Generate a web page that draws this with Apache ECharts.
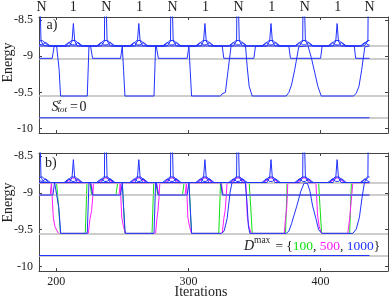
<!DOCTYPE html>
<html><head><meta charset="utf-8">
<script src="https://cdn.jsdelivr.net/npm/echarts@6/dist/echarts.min.js"></script>
<style>html,body{margin:0;padding:0;background:#fff}#c{width:390px;height:297px}</style>
</head><body><div id="c"></div>
<script>
// ---------- axes / labels ----------
const xTicks = [200, 300, 400];
const yTicks = [-10, -9.5, -9, -8.5];
const siteLabelPos = [189, 213, 238, 263, 288, 313, 338, 363, 388, 413, 437];
const siteLabels = ['N','1','N','1','N','1','N','1','N','1','N'];
const refEnergies = [-8.86, -9.03, -9.55, -9.85];

// ---------- ground state ----------
const ground = [[187,-9.85],[437,-9.85]];

// ---------- cluster of excited states (same for both panels) ----------
const spikeLine = [
 [187,-7.6],[188,-7.6],[188.5,-8.79],[190.5,-8.85],[194,-8.86],
 [210,-8.86],[212,-8.79],[213,-8.55],[214,-8.79],[216,-8.86],
 [234,-8.86],[236.5,-8.79],[236.9,-7.6],[238.1,-7.6],[238.5,-8.79],[241,-8.86],
 [259.5,-8.86],[261.5,-8.79],[262.5,-8.55],[263.5,-8.79],[265.5,-8.86],
 [284,-8.86],[286.5,-8.79],[286.9,-7.6],[288.1,-7.6],[288.5,-8.79],[291,-8.86],
 [309.5,-8.86],[311.5,-8.79],[312.5,-8.55],[313.5,-8.79],[315.5,-8.86],
 [334,-8.86],[336.5,-8.79],[336.9,-7.6],[338.1,-7.6],[338.5,-8.79],[341,-8.86],
 [359.5,-8.86],[361.5,-8.79],[362.5,-8.55],[363.5,-8.79],[365.5,-8.86],
 [384,-8.86],[386.5,-8.79],[386.9,-7.6],[388.1,-7.6],[388.5,-8.79],[391,-8.86],
 [409.5,-8.86],[411.5,-8.79],[412.5,-8.55],[413.5,-8.79],[415.5,-8.86],
 [433,-8.86],[435.8,-8.79],[436.3,-7.6],[437,-7.6]
];
const fanLine = [
 [187,-8.79],[189.5,-8.785],[194.5,-8.86],
 [207,-8.86],[211.5,-8.785],[214.5,-8.785],[219,-8.86],
 [231.5,-8.86],[236,-8.785],[239,-8.785],[243.5,-8.86],
 [256.5,-8.86],[261,-8.785],[264,-8.785],[268.5,-8.86],
 [281.5,-8.86],[286,-8.785],[289,-8.785],[293.5,-8.86],
 [306.5,-8.86],[311,-8.785],[314,-8.785],[318.5,-8.86],
 [331.5,-8.86],[336,-8.785],[339,-8.785],[343.5,-8.86],
 [356.5,-8.86],[361,-8.785],[364,-8.785],[368.5,-8.86],
 [381.5,-8.86],[386,-8.785],[389,-8.785],[393.5,-8.86],
 [406.5,-8.86],[411,-8.785],[414,-8.785],[418.5,-8.86],
 [431,-8.86],[435.5,-8.785],[437,-8.785]
];
const crossLine = [
 [187,-8.835],[189.5,-8.845],[192,-8.81],[195.5,-8.86],
 [206,-8.86],[209.5,-8.81],[212,-8.845],[214,-8.845],[216.5,-8.81],[220,-8.86],
 [230.5,-8.86],[234,-8.81],[236.5,-8.845],[238.5,-8.845],[241,-8.81],[244.5,-8.86],
 [255.5,-8.86],[259,-8.81],[261.5,-8.845],[263.5,-8.845],[266,-8.81],[269.5,-8.86],
 [280.5,-8.86],[284,-8.81],[286.5,-8.845],[288.5,-8.845],[291,-8.81],[294.5,-8.86],
 [305.5,-8.86],[309,-8.81],[311.5,-8.845],[313.5,-8.845],[316,-8.81],[319.5,-8.86],
 [330.5,-8.86],[334,-8.81],[336.5,-8.845],[338.5,-8.845],[341,-8.81],[344.5,-8.86],
 [355.5,-8.86],[359,-8.81],[361.5,-8.845],[363.5,-8.845],[366,-8.81],[369.5,-8.86],
 [380.5,-8.86],[384,-8.81],[386.5,-8.845],[388.5,-8.845],[391,-8.81],[394.5,-8.86],
 [405.5,-8.86],[409,-8.81],[411.5,-8.845],[413.5,-8.845],[416,-8.81],[419.5,-8.86],
 [430,-8.86],[433.5,-8.81],[436,-8.845],[437,-8.845]
];
const fanMagenta = [
 [207.5,-8.86],[212,-8.80],[214,-8.80],[218.5,-8.86],
 [232,-8.86],[236.5,-8.80],[238.5,-8.80],[243,-8.86],
 [257,-8.86],[261.5,-8.80],[263.5,-8.80],[268,-8.86],
 [282,-8.86],[286.5,-8.80],[288.5,-8.80],[293,-8.86],
 [307,-8.86],[311.5,-8.80],[313.5,-8.80],[318,-8.86],
 [332,-8.86],[336.5,-8.80],[338.5,-8.80],[343,-8.86],
 [357,-8.86],[361.5,-8.80],[363.5,-8.80],[368,-8.86],
 [382,-8.86],[386.5,-8.80],[388.5,-8.80],[393,-8.86],
 [407,-8.86],[411.5,-8.80],[413.5,-8.80],[418,-8.86]
];

// ---------- panel a: lowest excited states ----------
const aState1 = [
 [187,-9.03],[197,-9.03],[198.5,-8.86],[200.3,-8.86],[202.2,-9.18],[203.3,-9.55],
 [223.5,-9.55],[224.8,-8.86],
 [250,-8.86],[251,-9.2],[252,-9.55],
 [274,-9.55],[275.2,-8.86],
 [300.4,-8.86],[301.4,-9.2],[302.4,-9.55],
 [324.3,-9.55],[325.5,-9.52],[328,-9.5],[330,-9.2],[332.3,-8.86],
 [343.2,-8.86],[344.5,-9.15],[346,-9.42],[348.3,-9.55],
 [374,-9.55],[376,-9.5],[378,-9.4],[380.5,-9.18],[383.5,-8.87],
 [390.5,-8.86],[393,-9.02],[395.5,-9.22],[398,-9.42],[400.5,-9.55],
 [425,-9.55],[427,-9.51],[429,-9.42],[431,-9.2],[433.5,-8.87],[437,-8.86]
];
const aState2 = [
 [187,-8.86],[226,-8.86],[227.5,-9.03],[248.7,-9.03],[250,-8.86],
 [275.7,-8.86],[277.3,-9.03],[299.1,-9.03],[300.4,-8.86],
 [325.6,-8.86],[326.8,-9.03],[349.5,-9.03],[350.8,-8.86],
 [376,-8.86],[377.2,-9.03],[400,-9.03],[401.2,-8.86],
 [425.5,-8.86],[426.5,-9.03],[437,-9.03]
];

// ---------- panel b: D=1000 (blue) ----------
const bBlue1 = [
 [187,-9.03],[197.5,-9.03],[198.8,-8.86],[200.3,-8.86],[202,-9.2],[203.4,-9.55],
 [223.5,-9.55],[224.8,-8.86],
 [250,-8.86],[251,-9.2],[252.2,-9.55],
 [274,-9.55],[275.2,-8.86],
 [300.4,-8.86],[301.4,-9.2],[302.4,-9.55],
 [325,-9.55],[327,-9.52],[329.3,-9.35],[331.5,-9.0],[333,-8.86],
 [343,-8.86],[344.2,-9.1],[345.4,-9.45],[346.5,-9.55],
 [374,-9.55],[376,-9.52],[378,-9.42],[380,-9.30],[382,-9.18],[385,-8.98],[387.5,-8.87],
 [390,-8.87],[392,-8.98],[394,-9.18],[396.5,-9.35],[398.5,-9.5],[401,-9.55],
 [424.5,-9.55],[427,-9.49],[429.4,-9.33],[431.4,-9.06],[433.2,-8.86],[437,-8.86]
];
const bBlue2 = [
 [187,-8.86],[226,-8.86],[227.5,-9.03],[248.7,-9.03],[250,-8.86],
 [275.7,-8.86],[277.3,-9.03],[299.1,-9.03],[300.4,-8.86],
 [324.5,-8.86],[325.8,-9.03],[437,-9.03]
];
// ---------- panel b: D=100 (green) ----------
const bGreen1 = [
 [187,-9.03],[195.5,-9.03],[196.8,-8.86],[200.3,-8.86],[201.8,-9.2],[203.2,-9.55],
 [222,-9.55],[223.3,-8.86],
 [250,-8.86],[251,-9.2],[252,-9.55],
 [272.5,-9.55],[273.8,-8.86],
 [300.4,-8.86],[301.4,-9.2],[302.4,-9.55],
 [323,-9.55],[324.3,-8.86],
 [346,-8.86],[347.2,-9.2],[348.3,-9.55],
 [373.5,-9.55],[374.7,-8.86],
 [398.5,-8.86],[399.6,-9.2],[400.8,-9.55],
 [422,-9.55],[423.3,-8.86],[437,-8.86]
];
const bGreen2 = [
 [187,-8.86],[225.5,-8.86],[226.8,-9.03],[245.2,-9.03],[246.5,-8.86],
 [275.5,-8.86],[276.8,-9.03],[295.5,-9.03],[296.8,-8.86],
 [324.5,-8.86],[325.8,-9.03],[437,-9.03]
];
// ---------- panel b: D=500 (magenta) ----------
const bMagenta1 = [
 [187,-9.03],[195.5,-9.03],[196.4,-8.87],[197.8,-9.33],[199.1,-9.46],[201.6,-9.55],
 [224.3,-9.55],[225.6,-9.35],[226.8,-9.24],[227.6,-9.06],[228.2,-8.87],
 [248.4,-8.87],[249.6,-9.33],[250.9,-9.46],[252.4,-9.55],
 [275.2,-9.55],[276.2,-9.35],[277,-9.24],[277.8,-9.06],[278.4,-8.87],
 [298.6,-8.87],[299.6,-9.33],[300.9,-9.46],[302.4,-9.55],
 [325.6,-9.55],[326.8,-9.35],[327.8,-9.24],[328.6,-9.06],[329.2,-8.87],
 [343.5,-8.87],[344.6,-9.33],[345.8,-9.46],[347.5,-9.55],
 [372.5,-9.55],[373.5,-9.35],[374.4,-9.2],[375.2,-8.87],
 [396.5,-8.87],[397.7,-9.3],[399,-9.46],[400.7,-9.55],
 [420.6,-9.55],[422,-9.35],[423.2,-9.1],[424.4,-8.87],[437,-8.87]
];
const bMagenta2 = [
 [187,-8.87],[226.5,-8.87],[227.8,-9.03],[247.5,-9.03],[248.5,-8.87],
 [276,-8.87],[277.5,-9.03],[297.5,-9.03],[298.5,-8.87],
 [325,-8.87],[326.3,-9.03],[437,-9.03]
];

// ---------- styling ----------
const SERIF = 'Liberation Serif';
const BLUE = '#2233ff', GREEN = '#11e011', MAGENTA = '#ff1aff';
const AX = '#444', TXT = '#222';

function line(data, color, g, z) {
  return {type:'line', data:data, xAxisIndex:g*2, yAxisIndex:g*2, showSymbol:false, symbol:'none',
          lineStyle:{color:color, width:1}, animation:false, silent:true, z:z, clip:true};
}
function refSeries(g) {
  return {type:'line', data:[], xAxisIndex:g*2, yAxisIndex:g*2, z:1, silent:true, animation:false,
    markLine:{silent:true, symbol:'none', animation:false, label:{show:false},
      lineStyle:{color:'#bdbdbd', width:1.6, type:'solid'},
      data: refEnergies.map(v => ({yAxis:v}))}};
}
function xAx(g, pos, labels) {
  const a = {gridIndex:g, type:'value', min:187, max:451, position:pos,
    axisLine:{show:true, onZero:false, lineStyle:{color:AX, width:1}},
    axisTick:{show:true, inside:true, length:3, customValues:xTicks, lineStyle:{color:AX}},
    axisLabel:{show:false}, splitLine:{show:false}};
  if (labels === 'num') a.axisLabel = {show:true, customValues:xTicks, fontFamily:SERIF, fontSize:12, color:TXT, margin:5};
  if (labels === 'site') a.axisLabel = {show:true, customValues:siteLabelPos, fontFamily:SERIF, fontSize:14, color:TXT, margin:3,
      formatter: v => { const i = siteLabelPos.findIndex(p => Math.abs(p - v) < 1e-6); return i >= 0 ? siteLabels[i] : ''; }};
  return a;
}
function yAx(g, pos, labels) {
  return {gridIndex:g, type:'value', min:-10.06, max:-8.46, position:pos,
    axisLine:{show:true, onZero:false, lineStyle:{color:AX, width:1}},
    axisTick:{show:true, inside:true, length:3, customValues:yTicks, lineStyle:{color:AX}},
    axisLabel: labels ? {show:true, customValues:yTicks, fontFamily:SERIF, fontSize:12, color:TXT, margin:6} : {show:false},
    splitLine:{show:false}};
}
function txt(x, y, text, font, color, extra) {
  return Object.assign({type:'text', x:x, y:y, silent:true,
    style:{text:text, font:font, fill:color || TXT, align:'left', verticalAlign:'middle'}}, extra || {});
}

const chart = echarts.init(document.getElementById('c'), null, {renderer:'canvas'});
chart.setOption({
  animation:false,
  backgroundColor:'#fff',
  grid:[{left:39, top:14, width:349, height:119}, {left:39, top:153, width:349, height:118}],
  xAxis:[xAx(0,'bottom',null), xAx(0,'top','site'), xAx(1,'bottom','num'), xAx(1,'top',null)],
  yAxis:[yAx(0,'left',true), yAx(0,'right',false), yAx(1,'left',true), yAx(1,'right',false)],
  series:[
    refSeries(0),
    line(crossLine, BLUE, 0, 5), line(fanLine, BLUE, 0, 5), line(spikeLine, BLUE, 0, 5),
    line(aState2, BLUE, 0, 5), line(aState1, BLUE, 0, 5), line(ground, BLUE, 0, 5),
    refSeries(1),
    line(bGreen2, GREEN, 1, 3), line(bGreen1, GREEN, 1, 3),
    line(fanMagenta, MAGENTA, 1, 4), line(bMagenta2, MAGENTA, 1, 4), line(bMagenta1, MAGENTA, 1, 4),
    line(crossLine, BLUE, 1, 5), line(fanLine, BLUE, 1, 5), line(spikeLine, BLUE, 1, 5),
    line(bBlue2, BLUE, 1, 5), line(bBlue1, BLUE, 1, 5), line(ground, BLUE, 1, 5)
  ],
  graphic:[
    txt(46.5, 25.5, 'a)', '14px "'+SERIF+'"'),
    txt(45, 163.5, 'b)', '14px "'+SERIF+'"'),
    txt(51.5, 107, 'S', 'italic 14px "'+SERIF+'"'),
    txt(58, 101.5, 'z', 'italic 9px "'+SERIF+'"'),
    txt(57.5, 109.5, 'tot', 'italic 9px "'+SERIF+'"'),
    txt(70, 107, '=', '14px "'+SERIF+'"'),
    txt(79.5, 107, '0', '14px "'+SERIF+'"'),
    txt(244, 246.5, 'D', 'italic 14px "'+SERIF+'"'),
    txt(254, 240.8, 'max', '9.5px "'+SERIF+'"'),
    {type:'text', x:272, y:246.5, silent:true, style:{
      text:' = {{g|100}, {m|500}, {b|1000}}', font:'13.5px "'+SERIF+'"', fill:TXT,
      align:'left', verticalAlign:'middle',
      rich:{g:{fill:GREEN, fontFamily:SERIF, fontSize:13.5}, m:{fill:MAGENTA, fontFamily:SERIF, fontSize:13.5}, b:{fill:BLUE, fontFamily:SERIF, fontSize:13.5}}}},
    {type:'text', x:8.5, y:62.5, rotation:Math.PI/2, silent:true, style:{text:'Energy', font:'14px "'+SERIF+'"', fill:TXT, align:'center', verticalAlign:'middle'}},
    {type:'text', x:8.5, y:202.5, rotation:Math.PI/2, silent:true, style:{text:'Energy', font:'14px "'+SERIF+'"', fill:TXT, align:'center', verticalAlign:'middle'}},
    {type:'text', x:201, y:292, silent:true, style:{text:'Iterations', font:'14px "'+SERIF+'"', fill:TXT, align:'center', verticalAlign:'middle'}}
  ]
});
</script>
</body></html>
